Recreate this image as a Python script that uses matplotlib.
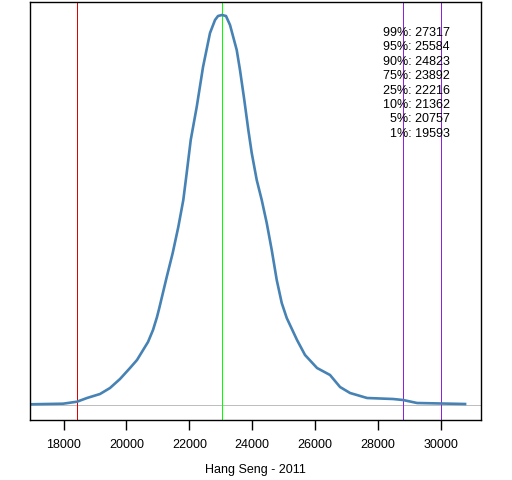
import matplotlib
matplotlib.use("Agg")
import matplotlib.pyplot as plt

# Density curve (x value, relative density)
xs = [16935, 17984, 18429, 18747, 19160, 19478, 19796, 20114, 20336, 20686,
      20845, 20972, 21045, 21281, 21471, 21649, 21808, 21916, 22044, 22234,
      22435, 22657, 22816, 22911, 23038, 23165, 23293, 23506, 23610, 23747,
      23875, 23983, 24142, 24301, 24460, 24619, 24778, 24937, 25096, 25423,
      25677, 26059, 26472, 26790, 27108, 27649, 28475, 28793, 29238, 30764]
ys_px = [404.3, 403.7, 401.7, 398, 394, 388, 379, 368, 360, 342,
         330, 317, 308, 277, 253, 227, 200, 173, 140, 107,
         67, 33, 20, 16, 15, 16, 25, 50, 70, 100,
         130, 153, 180, 200, 223, 250, 280, 303, 318, 340,
         355, 368, 375, 387, 393, 398, 399, 400, 403, 404]
density = [(405 - y) / 390 for y in ys_px]

quant_labels = ["99%", "95%", "90%", "75%", "25%", "10%", "5%", "1%"]
quant_values = [27317, 25584, 24823, 23892, 22216, 21362, 20757, 19593]

red_line = 18429
green_line = 23038
purple_lines = [28793, 30000]
xticks = [18000, 20000, 22000, 24000, 26000, 28000, 30000]

fig = plt.figure(figsize=(5.12, 4.8), dpi=100)
ax = fig.add_axes([30/512, 60/480, 451/512, 418/480])
plt.rcParams['font.family'] = ['Liberation Sans', 'DejaVu Sans']

lw1 = 0.72
ax.axhline(0, color='#BEBEBE', lw=lw1, antialiased=False)
ax.axvline(red_line, color='#E00000', lw=lw1, antialiased=False)
ax.axvline(green_line, color='#00FF00', lw=lw1, antialiased=False)
for v in purple_lines:
    ax.axvline(v, color='#9020E0', lw=lw1, antialiased=False)
ax.plot(xs, density, color='#4682B4', lw=1.9, solid_joinstyle='round')

ax.set_xlim(16935, 31271)
ax.set_ylim(-15/390, 1 + 13/390)
ax.set_yticks([])
ax.set_xticks(xticks)
ax.set_xticklabels([str(t) for t in xticks], family=['Liberation Sans'], fontsize=9)
ax.tick_params(axis='x', length=7, width=1, pad=7)
for s in ax.spines.values():
    s.set_linewidth(1)
    s.set_color('black')

for i, (lab, val) in enumerate(zip(quant_labels, quant_values)):
    fig.text(450/512, (480 - 33 - i*14.4)/480, f"{lab}: {val}", ha='right', va='center',
             fontsize=9, family=['Liberation Sans'])

fig.text(255.5/512, (480 - 470)/480, "Hang Seng - 2011", ha='center', va='center',
         fontsize=9, family=['Liberation Sans'])

fig.savefig("out.png", dpi=100)
